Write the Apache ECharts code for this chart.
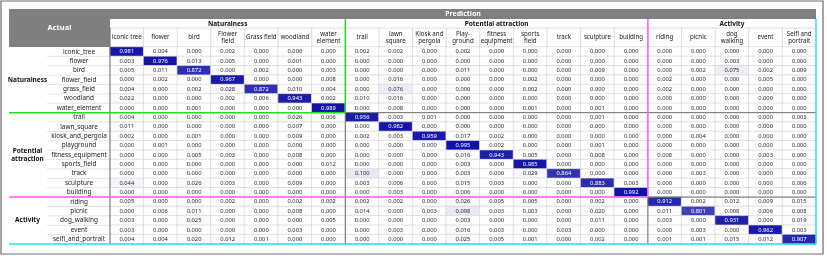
<!DOCTYPE html>
<html><head><meta charset="utf-8">
<script src="https://cdn.jsdelivr.net/npm/echarts@6/dist/echarts.min.js"></script>
<style>html,body{margin:0;padding:0;background:#fff}#c{width:827px;height:256px}</style>
</head><body><div id="c"></div>
<script>
// ---- data ----
const colLabels = ['iconic tree','flower','bird','Flower\nfield','Grass field','woodland','water\nelement',
  'trail','lawn\nsquare','Kiosk and\npergola','Play-\nground','fitness\nequipment','sports\nfield','track','sculpture','building',
  'riding','picnic','dog\nwalking','event','Selfi and\nportrait'];
const rowLabels = ['iconic_tree','flower','bird','flower_field','grass_field','woodland','water_element',
  'trail','lawn_square','kiosk_and_pergola','playground','fitness_equipment','sports_field','track','sculpture','building',
  'riding','picnic','dog_walking','event','selfi_and_portrait'];
const groupNames = ['Naturalness','Potential attraction','Activity'];
const groupRowLabels = ['Naturalness','Potential\nattraction','Activity'];
const groupSizes = [7,9,5];

const naturalnessRows = [
 [0.981,0.004,0.000,0.002,0.000,0.006,0.000, 0.002,0.002,0.000,0.002,0.000,0.000,0.000,0.000,0.000, 0.000,0.000,0.000,0.000,0.000],
 [0.003,0.976,0.013,0.005,0.000,0.001,0.000, 0.000,0.000,0.000,0.000,0.000,0.000,0.000,0.000,0.000, 0.000,0.000,0.003,0.000,0.000],
 [0.005,0.011,0.872,0.000,0.002,0.000,0.003, 0.000,0.000,0.000,0.011,0.000,0.000,0.000,0.009,0.000, 0.000,0.002,0.075,0.002,0.009],
 [0.000,0.002,0.000,0.967,0.000,0.000,0.008, 0.000,0.016,0.000,0.000,0.000,0.002,0.000,0.000,0.000, 0.002,0.000,0.000,0.005,0.000],
 [0.004,0.000,0.002,0.028,0.872,0.010,0.004, 0.000,0.076,0.000,0.000,0.000,0.002,0.000,0.000,0.000, 0.002,0.000,0.000,0.000,0.000],
 [0.022,0.000,0.000,0.002,0.006,0.943,0.002, 0.010,0.016,0.000,0.000,0.000,0.000,0.000,0.000,0.000, 0.000,0.000,0.000,0.000,0.000],
 [0.000,0.000,0.001,0.000,0.000,0.000,0.989, 0.000,0.008,0.000,0.000,0.000,0.001,0.000,0.001,0.000, 0.000,0.000,0.000,0.000,0.000]
];
const attractionRows = [
 [0.004,0.000,0.000,0.000,0.000,0.026,0.006, 0.956,0.003,0.001,0.000,0.000,0.000,0.000,0.001,0.000, 0.000,0.000,0.000,0.000,0.003],
 [0.011,0.000,0.000,0.000,0.000,0.007,0.000, 0.000,0.982,0.000,0.000,0.000,0.000,0.000,0.000,0.000, 0.000,0.000,0.000,0.000,0.000],
 [0.002,0.000,0.001,0.000,0.000,0.009,0.000, 0.002,0.003,0.959,0.017,0.002,0.000,0.000,0.000,0.000, 0.000,0.004,0.000,0.000,0.000],
 [0.000,0.001,0.000,0.000,0.000,0.000,0.000, 0.000,0.000,0.000,0.995,0.002,0.000,0.000,0.001,0.000, 0.000,0.000,0.000,0.000,0.000],
 [0.000,0.000,0.005,0.003,0.000,0.008,0.000, 0.000,0.000,0.000,0.016,0.943,0.005,0.000,0.008,0.000, 0.008,0.000,0.000,0.003,0.000],
 [0.000,0.000,0.000,0.000,0.000,0.000,0.012, 0.000,0.000,0.000,0.003,0.000,0.985,0.000,0.000,0.000, 0.000,0.000,0.000,0.000,0.000],
 [0.000,0.000,0.000,0.000,0.000,0.000,0.000, 0.100,0.000,0.000,0.003,0.000,0.029,0.864,0.000,0.000, 0.000,0.003,0.000,0.000,0.000],
 [0.044,0.000,0.026,0.003,0.000,0.009,0.000, 0.003,0.006,0.000,0.015,0.003,0.000,0.000,0.883,0.003, 0.000,0.000,0.000,0.000,0.006],
 [0.000,0.000,0.000,0.000,0.000,0.000,0.000, 0.000,0.003,0.000,0.006,0.000,0.000,0.000,0.000,0.992, 0.000,0.000,0.000,0.000,0.000]
];
const activityRows = [
 [0.005,0.000,0.000,0.002,0.000,0.002,0.002, 0.002,0.002,0.000,0.026,0.005,0.005,0.000,0.002,0.000, 0.912,0.002,0.012,0.009,0.015],
 [0.000,0.006,0.011,0.000,0.000,0.008,0.000, 0.014,0.000,0.003,0.098,0.003,0.003,0.000,0.020,0.000, 0.011,0.801,0.008,0.006,0.008],
 [0.003,0.000,0.025,0.000,0.000,0.000,0.005, 0.000,0.000,0.000,0.003,0.000,0.000,0.000,0.011,0.000, 0.003,0.000,0.931,0.000,0.019],
 [0.003,0.000,0.000,0.000,0.000,0.003,0.000, 0.000,0.003,0.000,0.016,0.003,0.000,0.003,0.000,0.000, 0.000,0.003,0.000,0.962,0.003],
 [0.004,0.004,0.020,0.012,0.001,0.000,0.000, 0.000,0.000,0.000,0.025,0.005,0.001,0.000,0.002,0.000, 0.001,0.001,0.015,0.012,0.907]
];

// ---- layout ----
const GL = 110, GT = 47, GW = 706, GH = 197;
const nC = colLabels.length, nR = rowLabels.length;
const CW = GW / nC, RH = GH / nR;
const FONT = '"Noto Sans", "DejaVu Sans", sans-serif';

const matrix = naturalnessRows.concat(attractionRows, activityRows);
const data = [];
matrix.forEach((row, r) => row.forEach((v, c) => {
  data.push({ value: [c, r, v], label: { color: v > 0.5 ? '#ffffff' : '#2a2a2a' } });
}));

const g = [];
const line = (x1, y1, x2, y2, color, w) => g.push({ type: 'line', silent: true, z: 20,
  shape: { x1, y1, x2, y2 }, style: { stroke: color, lineWidth: w } });
const rect = (x, y, w, h, fill, stroke, lw, z) => g.push({ type: 'rect', silent: true, z: z || 1,
  shape: { x, y, width: w, height: h }, style: { fill, stroke: stroke || null, lineWidth: lw || 0 } });
const text = (t, x, y, size, weight, color, z) => g.push({ type: 'text', silent: true, z: z || 25,
  style: { text: t, x, y, font: `${weight} ${size}px ${FONT}`, fill: color, align: 'center', verticalAlign: 'middle', lineHeight: size + 1.5 } });

// frame
rect(1, 1, 822, 253, 'transparent', '#6a6a6a', 1.2, 0);
// Actual header
rect(9, 9, GL - 9, GT - 9, '#7f7f7f');
text('Actual', (9 + GL) / 2, 28, 7.5, 'bold', '#ffffff');
// Prediction bar
rect(GL, 9, GW, 10, '#7f7f7f');
text('Prediction', GL + GW / 2, 14.2, 7, 'bold', '#ffffff');
// group header row
let cStart = 0;
const xB = [GL];
groupSizes.forEach((n, i) => {
  const x0 = GL + cStart * CW, x1 = GL + (cStart + n) * CW;
  text(groupNames[i], (x0 + x1) / 2, 23.8, 6.5, 'bold', '#111111');
  cStart += n; xB.push(x1);
});
// column header borders
line(GL, 28, GL + GW, 28, '#d0d0d0', 0.8);
for (let c = 1; c < nC; c++) line(GL + c * CW, 28, GL + c * CW, GT, '#d0d0d0', 0.8);
// row label separators
for (let r = 1; r < nR; r++) line(47, GT + r * RH, GL, GT + r * RH, '#d8d8d8', 0.7);
// group row labels
let rStart = 0;
const yB = [GT];
groupSizes.forEach((n, i) => {
  const y0 = GT + rStart * RH, y1 = GT + (rStart + n) * RH;
  text(groupRowLabels[i], 27.5, (y0 + y1) / 2, 6.5, 'bold', '#111111');
  rStart += n; yB.push(y1);
});
// dark separators
line(GL, 28, GL, GT + GH, '#6f6f6f', 1);
line(xB[1], yB[1], xB[1], yB[3], '#6f6f6f', 1);
line(xB[1], yB[1], xB[3], yB[1], '#6f6f6f', 1);
line(xB[2], yB[2], xB[2], yB[3], '#6f6f6f', 1);
line(xB[2], yB[2], xB[3], yB[2], '#6f6f6f', 1);
// coloured group boxes
line(xB[1], 19, xB[1], yB[1], '#22dd22', 1.5);
line(9, yB[1], xB[1], yB[1], '#22dd22', 1.5);
line(xB[2], 19, xB[2], yB[2], '#ff55ff', 1.5);
line(9, yB[2], xB[2], yB[2], '#ff55ff', 1.5);
line(xB[3], 19, xB[3], yB[3], '#22e0f0', 1.5);
line(9, yB[3], xB[3], yB[3], '#22e0f0', 1.5);

const chart = echarts.init(document.getElementById('c'), null, { renderer: 'canvas' });
chart.setOption({
  animation: false,
  backgroundColor: '#ffffff',
  grid: { left: GL, top: GT, width: GW, height: GH },
  xAxis: {
    type: 'category', data: colLabels, position: 'top', z: 30,
    axisLine: { show: false }, axisTick: { show: false }, splitLine: { show: false },
    axisLabel: { show: true, interval: 0, fontSize: 6.2, lineHeight: 7.2, color: '#222', fontFamily: FONT,
      verticalAlign: 'middle', margin: 9.5, hideOverlap: false }
  },
  yAxis: {
    type: 'category', data: rowLabels, inverse: true, z: 30,
    axisLine: { show: false }, axisTick: { show: false }, splitLine: { show: false },
    axisLabel: { show: true, interval: 0, fontSize: 6.4, color: '#222', fontFamily: FONT, align: 'center', margin: 31, hideOverlap: false }
  },
  visualMap: { show: false, min: 0, max: 1, dimension: 2, inRange: { color: ['#ffffff', '#1010a6'] } },
  series: [{
    type: 'heatmap', data: data,
    itemStyle: { borderColor: '#d6d6d6', borderWidth: 0.7 },
    label: { show: true, fontSize: 5.8, fontFamily: FONT,
      formatter: p => p.value[2].toFixed(3) },
    emphasis: { disabled: true }
  }],
  graphic: g
});
</script></body></html>
